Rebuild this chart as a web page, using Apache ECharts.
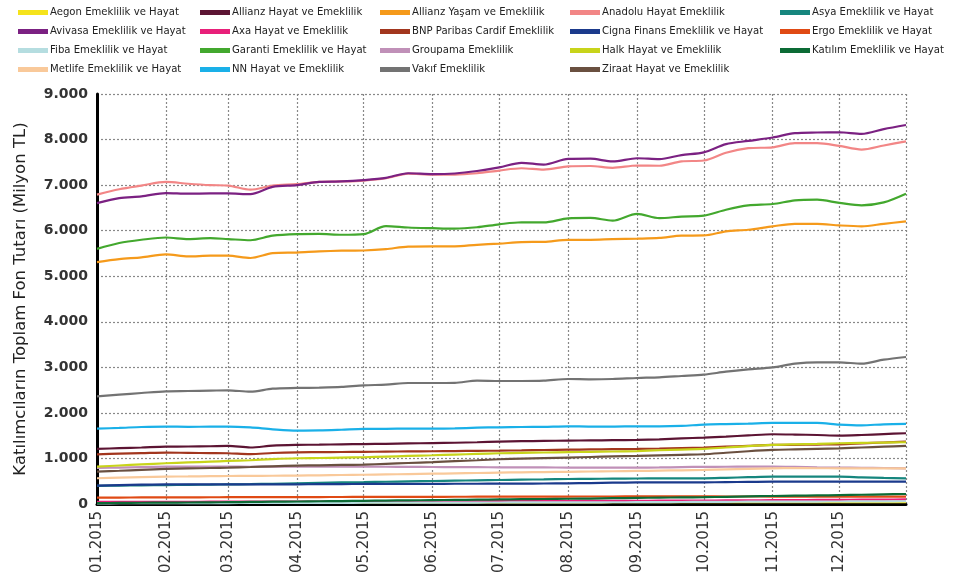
<!DOCTYPE html>
<html><head><meta charset="utf-8">
<script src="https://cdn.jsdelivr.net/npm/echarts@6/dist/echarts.min.js"></script>
<style>html,body{margin:0;padding:0;background:#fff}#c{width:957px;height:579px}</style>
</head><body><div id="c"></div>
<script>
const dates = ['2015-01-01','2015-01-11','2015-01-21','2015-02-01','2015-02-11','2015-02-21','2015-03-01','2015-03-11','2015-03-21','2015-04-01','2015-04-11','2015-04-21','2015-05-01','2015-05-11','2015-05-21','2015-06-01','2015-06-11','2015-06-21','2015-07-01','2015-07-11','2015-07-21','2015-08-01','2015-08-11','2015-08-21','2015-09-01','2015-09-11','2015-09-21','2015-10-01','2015-10-11','2015-10-21','2015-11-01','2015-11-11','2015-11-21','2015-12-01','2015-12-11','2015-12-21','2015-12-31'];

const aegon = [30,30,31,31,32,32,32,33,33,33,34,34,34,35,35,35,36,36,36,36,37,37,37,38,38,38,38,39,39,39,40,40,40,40,41,41,41];
const allianzHayat = [1210,1225,1240,1260,1262,1268,1275,1240,1280,1297,1303,1310,1315,1322,1330,1338,1345,1355,1370,1378,1385,1392,1396,1400,1407,1420,1440,1458,1480,1505,1531,1525,1515,1502,1515,1535,1553];
const allianzYasam = [5310,5375,5415,5480,5435,5450,5450,5400,5505,5520,5545,5560,5565,5595,5650,5655,5655,5690,5715,5750,5755,5800,5800,5815,5825,5840,5890,5895,5985,6020,6095,6150,6150,6115,6095,6150,6205];
const anadolu = [6790,6910,6990,7070,7030,7000,6990,6900,6990,7020,7070,7080,7100,7150,7250,7230,7230,7260,7320,7370,7340,7410,7420,7380,7430,7425,7520,7540,7710,7810,7830,7920,7920,7860,7780,7870,7960];
const asya = [400,405,410,415,420,425,430,435,445,455,465,475,480,488,496,505,512,520,527,534,541,549,552,556,560,562,563,564,575,588,600,600,600,600,585,572,564];
const avivasa = [6606,6716,6752,6826,6811,6818,6818,6800,6960,7000,7070,7080,7110,7160,7260,7240,7255,7310,7390,7490,7450,7575,7580,7520,7590,7570,7660,7720,7900,7970,8045,8140,8155,8160,8125,8230,8320];
const axa = [45,46,47,48,49,50,51,52,53,54,55,56,57,58,59,60,61,62,63,64,65,66,67,68,70,72,74,76,78,80,83,86,89,92,95,98,100];
const bnp = [1090,1105,1115,1128,1122,1118,1114,1095,1120,1135,1138,1142,1145,1150,1155,1158,1162,1167,1172,1178,1185,1192,1198,1203,1209,1218,1228,1238,1258,1278,1297,1300,1305,1311,1330,1350,1370];
const cigna = [405,415,425,432,432,432,432,432,432,432,435,438,440,440,440,442,444,445,446,448,450,454,460,468,476,476,476,476,480,485,491,491,491,491,491,491,491];
const ergo = [140,142,144,146,147,148,149,150,151,152,153,154,155,156,157,158,159,160,161,162,163,164,165,165,166,166,166,166,165,165,164,163,162,162,161,161,160];
const fiba = [15,16,17,18,19,20,21,22,23,24,25,26,27,28,29,30,31,32,33,34,35,36,37,38,40,42,44,46,48,50,52,53,54,55,57,58,60];
const garanti = [5600,5730,5800,5850,5815,5835,5815,5790,5890,5925,5930,5910,5925,6100,6070,6055,6045,6075,6140,6185,6180,6270,6280,6220,6370,6275,6310,6330,6460,6555,6585,6665,6680,6610,6555,6620,6810];
const groupama = [790,800,810,820,822,822,820,818,820,822,822,821,821,818,815,812,810,808,806,804,802,800,800,800,799,802,810,815,818,820,821,815,805,799,795,790,784];
const halk = [820,845,870,894,912,930,945,960,985,1004,1010,1018,1026,1040,1055,1070,1085,1100,1114,1122,1130,1138,1145,1152,1162,1180,1195,1209,1240,1270,1297,1310,1320,1333,1340,1348,1355];
const katilim = [20,23,27,30,33,37,40,45,50,55,60,65,70,75,80,85,90,95,100,105,110,115,120,127,135,140,145,150,158,167,176,182,188,195,203,212,220];
const metlife = [565,578,590,601,606,611,615,618,620,623,630,637,642,650,657,665,673,681,689,695,701,707,713,719,725,732,740,747,760,772,784,786,785,784,784,784,784];
const nn = [1655,1670,1690,1699,1695,1697,1699,1680,1640,1612,1615,1630,1648,1650,1655,1655,1660,1675,1684,1690,1695,1706,1700,1700,1706,1705,1715,1743,1755,1765,1779,1780,1779,1743,1728,1750,1757];
const vakif = [2364,2400,2437,2474,2480,2488,2496,2466,2532,2547,2554,2569,2605,2620,2656,2656,2660,2708,2700,2700,2708,2744,2737,2744,2766,2781,2810,2839,2905,2956,3000,3080,3110,3110,3080,3168,3227];
const ziraat = [710,730,750,769,780,790,799,812,828,842,850,858,865,882,900,920,940,960,982,995,1008,1020,1032,1044,1055,1068,1080,1092,1125,1158,1187,1200,1212,1223,1240,1258,1275];

const names = ['Aegon Emeklilik ve Hayat','Allianz Hayat ve Emeklilik','Allianz Yaşam ve Emeklilik','Anadolu Hayat Emeklilik','Asya Emeklilik ve Hayat','Avivasa Emeklilik ve Hayat','Axa Hayat ve Emeklilik','BNP Paribas Cardif Emeklilik','Cigna Finans Emeklilik ve Hayat','Ergo Emeklilik ve Hayat','Fiba Emeklilik ve Hayat','Garanti Emeklilik ve Hayat','Groupama Emeklilik','Halk Hayat ve Emeklilik','Katılım Emeklilik ve Hayat','Metlife Emeklilik ve Hayat','NN Hayat ve Emeklilik','Vakıf Emeklilik','Ziraat Hayat ve Emeklilik'];
const values = [aegon,allianzHayat,allianzYasam,anadolu,asya,avivasa,axa,bnp,cigna,ergo,fiba,garanti,groupama,halk,katilim,metlife,nn,vakif,ziraat];
const colors = ['#f5e31c','#5c1433','#f59a1b','#f28686','#16867e','#7b2182','#e8207a','#a2361e','#1b3a8c','#e04a14','#b5dde0','#43a82e','#c090b8','#c8d41a','#0c6b35','#f9c99a','#1ab0e8','#737373','#6a5040'];
const yTicks = ['0','1.000','2.000','3.000','4.000','5.000','6.000','7.000','8.000','9.000'];

const legendCols = [[0,5,10,15],[1,6,11,16],[2,7,12,17],[3,8,13,18],[4,9,14]];
const legendLeft = [13,195,375,565,775];

const chart = echarts.init(document.getElementById('c'), null, {renderer:'canvas'});
const font = 'DejaVu Sans';
chart.setOption({
  animation:false,
  color: colors,
  legend: legendCols.map((col,i)=>({
    orient:'vertical', left: legendLeft[i], top: 1, itemGap: 6,
    icon:'rect', itemWidth: 30, itemHeight: 5, selectedMode:false,
    textStyle:{fontFamily:font, fontSize:10.1, color:'#222', lineHeight:13, padding:[0,0,0,-3]},
    data: col.map(k=>names[k])
  })),
  grid:{left:97, right:51, top:94, bottom:75, containLabel:false},
  xAxis:{
    type:'time', min:'2015-01-01', max:'2015-12-31', splitNumber:12,
    axisLine:{show:true, lineStyle:{color:'#000', width:3}},
    axisTick:{show:false},
    axisLabel:{rotate:90, fontFamily:font, fontSize:15, color:'#333', margin:7,
      formatter: v=>{const d=new Date(v); const m=d.getMonth()+1; return (m<10?'0':'')+m+'.'+d.getFullYear();}},
    splitLine:{show:true, lineStyle:{color:'#888', type:[2,2], width:1.2}}
  },
  yAxis:{
    type:'value', min:0, max:9000, interval:1000,
    name:'Katılımcıların Toplam Fon Tutarı (Milyon TL)', nameLocation:'middle', nameGap:68,
    nameTextStyle:{fontFamily:font, fontSize:16.5, color:'#222'},
    axisLine:{show:true, lineStyle:{color:'#000', width:3}},
    axisTick:{show:false},
    axisLabel:{fontFamily:font, fontSize:14, fontWeight:'bold', color:'#333', margin:9,
      formatter: v=>yTicks[Math.round(v/1000)]},
    splitLine:{show:true, lineStyle:{color:'#888', type:[2,2], width:1.2}}
  },
  series: names.map((n,i)=>({
    name:n, type:'line', showSymbol:false, smooth:0.3,
    lineStyle:{width:2.2, color:colors[i]}, itemStyle:{color:colors[i]},
    data: dates.map((d,j)=>[d, values[i][j]])
  }))
});
</script></body></html>
